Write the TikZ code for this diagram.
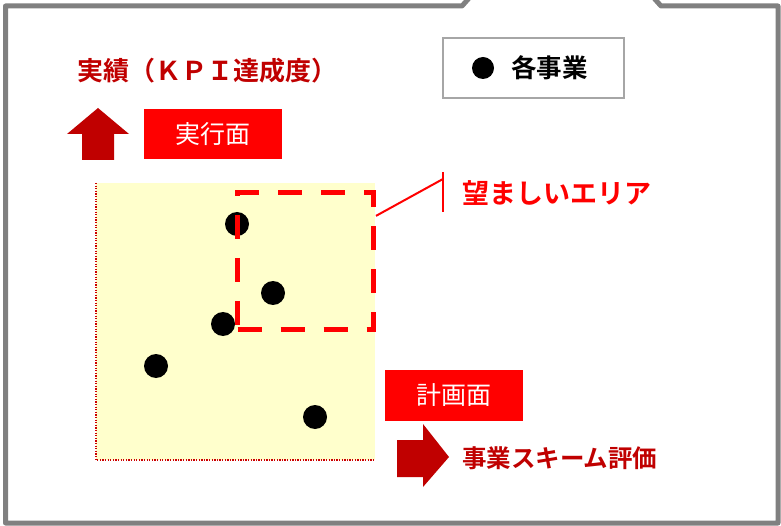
\documentclass[tikz,border=0pt]{standalone}
\usepackage{fontspec}
\setmainfont{Noto Sans CJK JP}
\newfontfamily\jpb{Noto Sans CJK JP Bold}
\usetikzlibrary{calc}
\definecolor{dred}{HTML}{C00000}
\definecolor{bred}{HTML}{FF0000}
\definecolor{pyellow}{HTML}{FFFFCC}
\definecolor{fgray}{HTML}{808080}
\definecolor{lgray}{HTML}{A6A6A6}
\tikzset{
  lbl/.style={inner sep=0pt, anchor=west, font=\jpb\fontsize{26}{30}\selectfont},
  redbox/.style={fill=bred, text=white, inner sep=0pt, font=\fontsize{25}{30}\selectfont},
  bizdot/.style={circle, fill=black, inner sep=0pt, minimum size=24pt},
  axisline/.style={bred!80!black, line width=1.6pt, dash pattern=on 1.3pt off 1.3pt},
  bigarrow/.style={fill=dred, draw=none},
  frameline/.style={fgray, line width=5pt, line join=round}
}
\begin{document}
\begin{tikzpicture}[x=1pt,y=-1pt]
\useasboundingbox (0,0) rectangle (781,526);
\fill[white] (0,0) rectangle (781,526);
% frame
\draw[frameline] (470,-3) -- (462,6) -- (5.5,6) -- (5.5,523) -- (778,523) -- (778,6) -- (661,6) -- (653,-3);
% plot area
\fill[pyellow] (96,183) rectangle (375,460);
\draw[axisline] (96,183) -- (96,460) -- (375,460);
% title
\node[lbl, text=dred] (kpi) at (77,71) {実績（ＫＰＩ達成度）};
% up arrow
\path[bigarrow] (98,108) -- (129,134) -- (114,134) -- (114,160) -- (82,160) -- (82,134) -- (67,134) -- cycle;
\node[redbox, minimum width=138pt, minimum height=50pt] (jikko) at (213,134) {実行面};
% legend
\node[draw=lgray, line width=1.5pt, minimum width=181pt, minimum height=60pt, inner sep=0pt] (legend) at (533.5,68) {};
\node[bizdot, minimum size=22pt] (legdot) at (483,68) {};
\node[lbl, font=\jpb\fontsize{25.5}{28}\selectfont] (legtxt) at (511,68) {各事業};
% dots
\node[bizdot] (d1) at (237,224) {};
\node[bizdot] (d2) at (273,293) {};
\node[bizdot] (d3) at (223,324) {};
\node[bizdot] (d4) at (156,366) {};
\node[bizdot] (d5) at (315,417) {};
% desired area
\node[draw=bred, line width=5pt, dash pattern=on 24pt off 19pt, minimum width=136pt, minimum height=136pt, inner sep=0pt] (area) at (305.5,261) {};
\coordinate (cA) at ($(area.north east)!0.18!(area.south east)$);
\coordinate (cB) at (443,179);
\coordinate (cT) at (443,172);
\coordinate (cU) at (443,212);
\draw[bred, line width=2pt] (cA) -- (cB);
\draw[bred, line width=2pt] (cT) -- (cU);
\node[lbl, text=bred, font=\jpb\fontsize{27}{30}\selectfont] (want) at (462,193) {望ましいエリア};
% plan
\node[redbox, minimum width=138pt, minimum height=51pt] (keikaku) at (454,395.5) {計画面};
\path[bigarrow] (397,440) -- (423,440) -- (423,424) -- (449,457) -- (423,487) -- (423,477) -- (397,477) -- cycle;
\node[lbl, text=dred, font=\jpb\fontsize{24.5}{28}\selectfont] (scheme) at (462,458) {事業スキーム評価};
\end{tikzpicture}
\end{document}
